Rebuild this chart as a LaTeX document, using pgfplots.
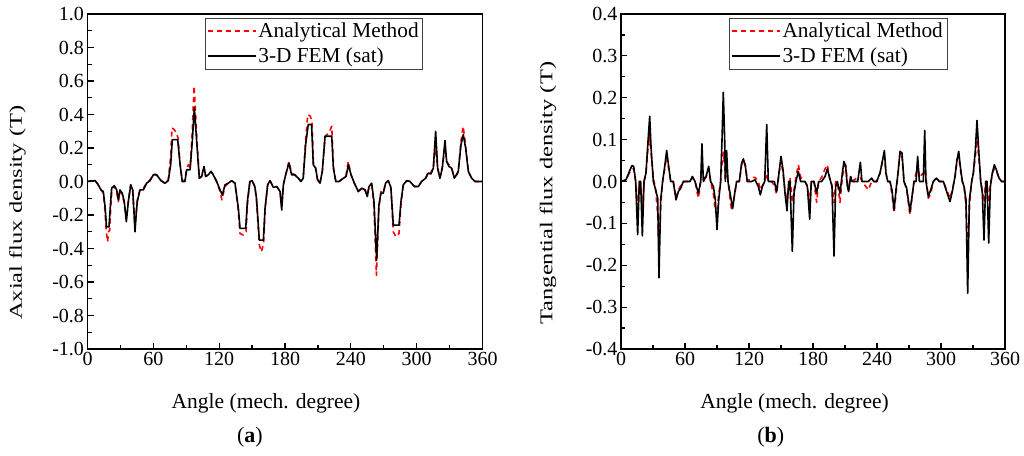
\documentclass[border=0pt]{standalone}
\usepackage{fontspec}
\setmainfont{Liberation Serif}
\usepackage{pgfplots}
\pgfplotsset{compat=1.18}
\tikzset{
 redl/.style={color=red, line width=1.6pt, dash pattern=on 5pt off 4pt, line join=round},
 blkl/.style={color=black, line width=1.6pt, line join=round},
}
\begin{document}
\begin{tikzpicture}[x=1pt,y=1pt]
\path[use as bounding box] (0,0) rectangle (1024,455);
\pgfplotsset{
 myax/.style={
  scale only axis, height=335pt,
  xmin=0, xmax=360, xtick={0,60,...,360}, minor x tick num=1, minor y tick num=1,
  tick align=inside, xtick pos=bottom, ytick pos=left,
  major tick length=6pt, minor tick length=4pt,
  axis line style={line width=1.3pt},
  every tick/.style={line width=1.2pt, black},
  tick label style={font=\fontsize{20}{22}\selectfont},
  /pgf/number format/assume math mode=true,
  y tick label style={/pgf/number format/.cd, fixed, fixed zerofill, precision=1, /tikz/.cd},
  xlabel={Angle (mech. degree)},
  xlabel style={at={(axis description cs:0.452,-0.162)}, anchor=center, font=\fontsize{21.5}{24}\selectfont},
  ylabel style={anchor=center, font=\fontsize{18}{20}\selectfont},
  legend style={at={(axis description cs:0.849,0.989)}, anchor=north east, draw=black!75,
    font=\fontsize{21.3}{24}\selectfont, inner xsep=2pt, inner ysep=3pt, row sep=4.5pt, cells={anchor=west}},
  legend image code/.code={\draw[line width=1.6pt,#1] (0pt,0pt) -- (48pt,0pt);},
  clip mode=individual,
 },
}
\begin{axis}[myax, at={(87.5pt,106pt)}, anchor=south west, width=395pt,
  ymin=-1, ymax=1, ytick={-1,-0.8,...,1.01},
  ylabel={\scalebox{1.36}[1]{Axial flux density (T)}},
  ylabel style={at={(axis description cs:-0.177,0.407)}}]
\addplot[redl] coordinates {
(0,0) (3,0.003) (7,0.005) (9.8,-0.02) (12.3,-0.05) (14.4,-0.07) (16,-0.18) (17,-0.29) (18.3,-0.36) (19.3,-0.30) (20.3,-0.29) (21.2,-0.15) (22.3,-0.04) (24.4,-0.03) (26.6,-0.06) (28.1,-0.12) (29.6,-0.06) (31.7,-0.08) (33.5,-0.13) (35.4,-0.23) (37.2,-0.12) (39.4,-0.02) (41.2,-0.05) (42.5,-0.19) (43.3,-0.28) (44.3,-0.19) (45.4,-0.11) (47.8,-0.05) (50.9,-0.04) (53.9,-0.01) (57,0.01) (60,0.045) (63,0.04) (67,0.005) (70.6,-0.01) (73.6,0.01) (75.8,0.15) (77,0.32) (79,0.31) (81,0.29) (82.5,0.26) (84.4,0.1) (86.4,0.0) (88.8,0.01) (90.4,0.08) (92,0.1) (93.5,0.08) (95.5,0.30) (97.2,0.57) (99.5,0.28) (101.9,0.02) (104,0.03) (106.2,0.08) (107.7,0.03) (110.1,0.04) (112.6,0.06) (114.6,0.04) (117.7,0.0) (120.8,-0.06) (122.5,-0.11) (125.3,-0.03) (128.3,-0.01) (131.4,0.005) (134.4,-0.01) (137.5,-0.18) (139,-0.31) (142,-0.32) (144.5,-0.30) (146,-0.12) (148,0.0) (150,0.005) (152.5,-0.03) (154,-0.11) (156.6,-0.38) (158.5,-0.42) (160.5,-0.37) (162,-0.16) (164.2,-0.02) (166.3,0.005) (169.4,-0.035) (172.5,-0.03) (175.5,-0.06) (177,-0.15) (178.5,-0.02) (180.6,0.04) (183.6,0.12) (186,0.05) (189,0.04) (192.1,0.02) (194.5,0.0) (196.6,0.02) (198.8,0.25) (200.8,0.40) (203,0.39) (204.6,0.36) (206,0.1) (207.9,0.08) (209.7,0.01) (211.9,-0.01) (214,0.06) (216.5,0.27) (220,0.29) (222.6,0.33) (224.3,0.08) (226.3,0.0) (229.3,0.0) (233.3,0.02) (235.7,0.04) (237.7,0.12) (240.2,0.04) (243.2,-0.01) (246.8,-0.06) (249.9,-0.04) (252.9,-0.05) (255,-0.08) (256.6,-0.03) (259,-0.02) (261.1,-0.15) (263.3,-0.56) (265.6,-0.16) (267.4,-0.06) (269.5,-0.07) (271.7,-0.01) (274.1,0.005) (276.5,-0.04) (278.7,-0.30) (281,-0.33) (283.9,-0.31) (285.9,-0.12) (287.8,-0.02) (290.9,0.005) (293.9,0.0) (297.9,-0.03) (301.5,-0.03) (304.5,0.0) (308.2,0.02) (310.6,0.06) (313,0.05) (315.2,0.09) (317.3,0.22) (319.1,0.08) (321.2,0.02) (323.4,0.09) (325.8,0.2) (327.3,0.12) (329.4,0.10) (331.8,0.08) (334.3,0.03) (336.4,0.04) (337.9,0.06) (340.4,0.24) (342.3,0.33) (344.6,0.22) (347.1,0.06) (350.1,0.02) (353.1,0.0) (356.2,0.0) (360,0)
};
\addlegendentry{Analytical Method}
\addplot[blkl] coordinates {
(0,0) (3,0.003) (7,0.005) (9.8,-0.02) (12.3,-0.05) (14.4,-0.06) (16,-0.15) (17.3,-0.27) (19.6,-0.27) (20.8,-0.15) (22,-0.04) (24.4,-0.025) (26.6,-0.05) (28.1,-0.11) (29.6,-0.05) (31.7,-0.07) (33.5,-0.12) (35.4,-0.24) (37.2,-0.12) (39.4,-0.02) (41.2,-0.05) (42.5,-0.2) (43.3,-0.30) (44.3,-0.2) (45.4,-0.12) (47.8,-0.05) (50.9,-0.05) (53.9,-0.01) (57,0.005) (60,0.04) (63,0.04) (67,0.005) (70.6,-0.01) (73.6,0.005) (75.8,0.1) (77.3,0.25) (82.2,0.25) (84.4,0.1) (86.4,0.0) (88.8,0.0) (90.4,0.07) (93.5,0.07) (95.5,0.24) (97.4,0.44) (99.5,0.24) (101.9,0.02) (104,0.03) (106.2,0.09) (107.7,0.03) (110.1,0.04) (112.6,0.06) (114.6,0.04) (117.7,0.0) (120.8,-0.05) (122.9,-0.08) (125.3,-0.02) (128.3,-0.01) (131.4,0.005) (134.4,-0.01) (137.5,-0.16) (139,-0.28) (144.2,-0.28) (145.7,-0.12) (148,0.0) (150,0.005) (152.5,-0.03) (154,-0.10) (156.6,-0.35) (160.3,-0.35) (161.8,-0.16) (164.2,-0.02) (166.3,0.005) (169.4,-0.035) (172.5,-0.03) (175.5,-0.06) (177,-0.17) (178.5,-0.02) (180.6,0.04) (183.6,0.11) (186,0.04) (189,0.04) (192.1,0.02) (194.5,0.0) (196.6,0.02) (198.8,0.22) (201.2,0.34) (204.2,0.34) (205.8,0.1) (207.9,0.08) (209.7,0.01) (211.9,-0.01) (214,0.06) (216.5,0.27) (222.6,0.27) (224.1,0.08) (226.3,0.0) (229.3,0.0) (233.3,0.02) (235.7,0.03) (237.7,0.1) (240.2,0.04) (243.2,-0.01) (246.8,-0.06) (249.9,-0.04) (252.9,-0.05) (255,-0.09) (256.6,-0.03) (259,-0.01) (261.1,-0.12) (263.5,-0.47) (265.6,-0.14) (267.4,-0.07) (269.5,-0.07) (271.7,-0.01) (274.1,0.005) (276.5,-0.035) (278.7,-0.26) (283.9,-0.26) (285.7,-0.12) (287.8,-0.02) (290.9,0.005) (293.9,0.0) (297.9,-0.03) (301.5,-0.03) (304.5,0.0) (308.2,0.02) (310.6,0.05) (313,0.045) (315.2,0.08) (317.3,0.30) (319.1,0.08) (321.2,0.02) (323.4,0.08) (325.8,0.245) (327.3,0.12) (329.4,0.09) (331.8,0.08) (334.3,0.02) (336.4,0.04) (337.9,0.06) (340.4,0.22) (342.5,0.28) (344.6,0.20) (347.1,0.06) (350.1,0.02) (353.1,0.0) (356.2,0.0) (360,0)
};
\addlegendentry{3-D FEM (sat)}
\node[font=\fontsize{22}{24}\selectfont] at (axis description cs:0.411,-0.262) {(\textbf{a})};
\end{axis}
\begin{axis}[myax, at={(621pt,106pt)}, anchor=south west, width=384pt,
  ymin=-0.4, ymax=0.4, ytick={-0.4,-0.3,...,0.41},
  ylabel={\scalebox{1.36}[1]{Tangential flux density (T)}},
  ylabel style={at={(axis description cs:-0.19,0.465)}}]
\addplot[redl] coordinates {
(0,0) (4.7,0.004) (7.8,0.02) (10.3,0.03) (11.9,0.03) (13.75,0.0) (15.6,-0.06) (17.2,0.0) (18.4,0.0) (20,-0.06) (21.6,0) (23.4,0.02) (25,0.07) (26.9,0.11) (28.1,0.07) (30.3,0.01) (32.5,-0.02) (34.4,-0.08) (35.6,-0.16) (37.2,-0.06) (39,0) (41,0.03) (42.8,0.06) (44.7,0.03) (46.6,0) (49,0) (51.6,-0.04) (53.75,-0.02) (56,-0.01) (58.4,0) (64.7,0) (66.9,0.01) (69.4,0) (72.5,-0.04) (74.7,0) (75.9,0.03) (77.2,0.01) (79.7,0.01) (82.2,0.03) (84,0) (86.6,-0.03) (88.4,-0.07) (90,-0.08) (91.6,-0.03) (93.4,0) (94.7,0.04) (95.9,0.07) (97.2,0.04) (97.8,0.01) (99,0.04) (100.3,0) (102.2,-0.04) (103.7,-0.07) (106.6,-0.03) (108.4,0) (110.9,0) (113.1,0.04) (114.7,0.05) (116.6,0.04) (118.4,0.0) (122.5,0.01) (125.6,0.01) (128.75,0) (130.6,-0.02) (132.5,-0.01) (134.7,0) (136.6,0.02) (138.1,0) (141.2,0) (143.75,-0.01) (145.9,-0.03) (148.1,0.02) (150,0.05) (151.9,0.02) (153.75,-0.02) (155.6,-0.05) (157.2,-0.01) (158.4,0.01) (160.6,-0.05) (162.2,-0.02) (164,0.01) (166.25,0.04) (168.4,0.01) (172.5,0) (174.7,-0.01) (176.9,-0.05) (178.4,0) (180.9,0) (183.4,-0.05) (185.3,0) (188.1,0.01) (191.25,0.03) (193.4,0.04) (195.3,0.01) (197.8,-0.01) (199.7,-0.05) (201.25,0) (202.8,0) (205.3,-0.05) (207.5,0.01) (209,0.03) (210.6,0.04) (212.2,0.0) (213.4,-0.02) (215.3,0.01) (216.6,0) (221.9,0.01) (224.4,0.01) (225.9,0) (231.9,-0.02) (235,0) (239.7,0) (242.8,0.02) (245.3,0.05) (246.9,0.06) (248.4,0.02) (250,0) (252.2,0) (254,-0.03) (256,-0.075) (257.8,-0.03) (259.7,0.02) (261.6,0.07) (263.4,0.06) (265.3,0.0) (267.8,-0.02) (270.9,-0.08) (272.8,-0.04) (274.7,0) (276.6,0.02) (278.1,0.04) (279.7,0.01) (283.4,0.02) (284.7,0.03) (285.9,0.01) (288.1,-0.04) (290.3,-0.03) (292.8,0) (295.9,0.01) (298.4,0) (302.2,0) (305.3,-0.02) (308.4,-0.04) (310.6,-0.02) (313.1,0.01) (315,0.05) (316.6,0.06) (318.1,0.03) (320,0) (321.6,-0.01) (323.4,-0.06) (325,-0.17) (326.6,-0.06) (328.75,0) (330.3,0.02) (332.2,0.06) (333.75,0.10) (335.3,0.06) (337.2,0.0) (338.75,-0.02) (340.3,-0.05) (341.9,0) (343.1,0) (344.7,-0.05) (346.25,-0.01) (348.1,0.02) (350,0.03) (351.9,0.025) (354.4,0.008) (356.9,0) (360,0)
};
\addlegendentry{Analytical Method}
\addplot[blkl] coordinates {
(0,0) (4.7,0.004) (7.8,0.024) (10.3,0.038) (11.9,0.036) (13.75,0) (15.6,-0.127) (17.2,0) (18.4,0) (20,-0.13) (21.6,0) (23.4,0.02) (25,0.084) (26.9,0.156) (28.1,0.084) (30.3,0) (32.5,-0.02) (34.4,-0.04) (35.6,-0.23) (37.2,-0.044) (39,0) (41,0.036) (42.8,0.074) (44.7,0.036) (46.6,0) (49,0) (51.6,-0.044) (53.75,-0.024) (56,-0.016) (58.4,0) (64.7,0) (66.9,0.012) (69.4,0) (72.5,-0.028) (74.7,0) (75.9,0.09) (77.2,0) (79.7,0.012) (82.2,0.036) (84,0) (86.6,-0.012) (88.4,-0.044) (90,-0.115) (91.6,-0.044) (93.4,0) (94.7,0.1) (95.9,0.213) (97.2,0.1) (97.8,0) (99,0.074) (100.3,0) (102.2,-0.028) (104.7,-0.064) (106.6,-0.028) (108.4,0) (110.9,0) (113.1,0.044) (114.7,0.054) (116.6,0.036) (118.4,0) (122.5,0) (125.6,0.004) (128.75,-0.012) (130.6,-0.032) (132.5,-0.012) (134.7,0) (136.6,0.136) (138.1,0) (141.2,0) (143.75,0) (145.9,-0.024) (148.1,0.02) (150,0.06) (151.9,0.028) (153.75,-0.028) (155.6,-0.07) (157.2,0) (158.4,0) (160.6,-0.167) (162.2,-0.028) (164,0) (166.25,0.024) (168.4,0) (172.5,0) (174.7,-0.012) (176.9,-0.09) (178.4,0) (180.9,0) (183.4,-0.028) (185.3,0) (188.1,0) (191.25,0.012) (193.4,0.03) (195.3,0.012) (197.8,-0.012) (199.7,-0.178) (201.25,-0.012) (202.8,0) (205.3,-0.028) (207.5,0.02) (209,0.048) (210.6,0.036) (212.2,-0.012) (213.4,-0.024) (215.3,0.012) (216.6,0) (219.4,0) (221.9,0) (224.4,0.046) (225.9,0) (228.75,0) (231.9,0) (235,0.008) (236.9,0) (239.7,0) (242.8,0.02) (245.3,0.052) (246.9,0.074) (248.4,0.02) (250,0) (252.2,0) (254,-0.02) (256,-0.068) (257.8,-0.02) (259.7,0.02) (261.6,0.072) (263.4,0.068) (265.3,0) (267.8,-0.016) (270.9,-0.072) (272.8,-0.036) (274.7,0) (276.6,0) (278.1,0.06) (279.7,0) (281.9,0) (283.4,0) (284.7,0.122) (285.9,0) (288.1,-0.036) (290.3,-0.02) (292.8,0) (295.9,0.008) (298.4,0) (302.2,0) (305.3,-0.024) (308.4,-0.048) (310.6,-0.024) (313.1,0.012) (315,0.052) (316.6,0.072) (318.1,0.036) (320,0) (321.6,-0.012) (323.4,-0.044) (325,-0.267) (326.6,-0.044) (328.75,0) (330.3,0.02) (332.2,0.076) (333.75,0.146) (335.3,0.076) (337.2,0) (338.75,-0.028) (340.3,-0.14) (341.9,0) (343.1,0) (344.7,-0.147) (346.25,-0.012) (348.1,0.02) (350,0.04) (351.9,0.028) (354.4,0.008) (356.9,0) (360,0)
};
\addlegendentry{3-D FEM (sat)}
\node[font=\fontsize{22}{24}\selectfont] at (axis description cs:0.39,-0.262) {(\textbf{b})};
\end{axis}
\end{tikzpicture}
\end{document}
